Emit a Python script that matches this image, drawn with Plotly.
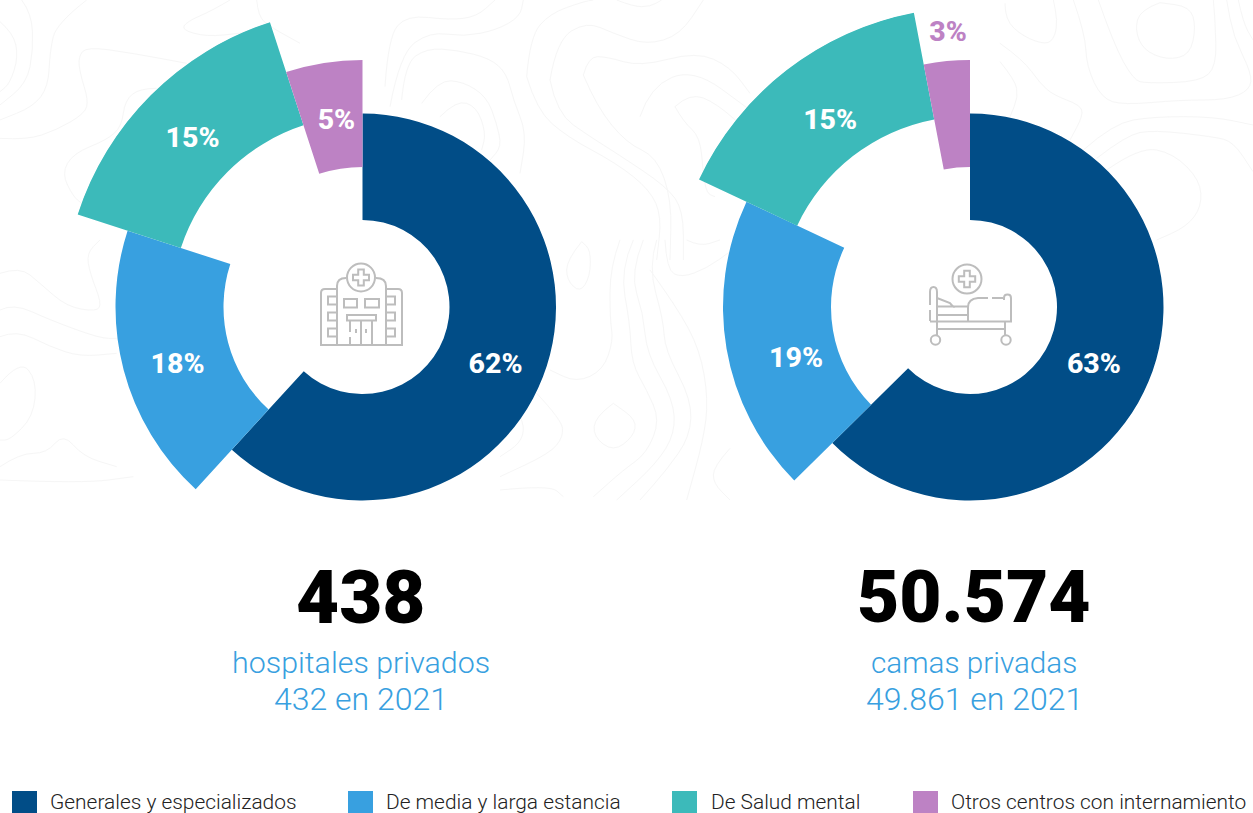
import plotly.graph_objects as go

# ---- data ----
categories = ["Generales y especializados", "De media y larga estancia", "De Salud mental", "Otros centros con internamiento"]
hosp_share = [61.8, 18.2, 15, 5]
beds_share = [62.6, 19.4, 15, 3]
ring_inner = [87, 139, 191, 140]
ring_outer = [193.5, 247, 299.5, 247]
colors = ["#014d87", "#38a0e0", "#3cbaba", "#bd82c4"]
hosp_label_r = [145.3, 194, 238.7, 187.3]
hosp_label_theta = [113.7, 252.45, 314.6, 352.0]
beds_label_r = [137.1, 181.7, 232.4, 274.4]
beds_label_theta = [115.3, 253.2, 323.0, 355.4]
beds_label_colors = ["white", "white", "white", "#bd82c4"]

W, H = 1300, 813
FONT = "Roboto"

def X(x): return x / W
def Y(y): return 1 - y / H

def donut_traces(share, sub, label_r, label_theta, label_colors):
    width = [s * 3.6 for s in share]
    theta, a = [], 0
    for w in width:
        theta.append(a + w / 2)
        a += w
    bars = go.Barpolar(
        r=[o - i for o, i in zip(ring_outer, ring_inner)], base=ring_inner, theta=theta, width=width,
        marker=dict(color=colors, line=dict(width=0)), subplot=sub, showlegend=False, hoverinfo="skip")
    labels = go.Scatterpolar(
        r=label_r, theta=label_theta, mode="text",
        text=[f"{s:.0f}%" for s in share], cliponaxis=False,
        textfont=dict(family=FONT, size=28.5, weight=800, color=label_colors),
        subplot=sub, showlegend=False, hoverinfo="skip")
    return [bars, labels]

fig = go.Figure()
for t in donut_traces(hosp_share, "polar", hosp_label_r, hosp_label_theta, ["white"] * 4):
    fig.add_trace(t)
for t in donut_traces(beds_share, "polar2", beds_label_r, beds_label_theta, beds_label_colors):
    fig.add_trace(t)

def polar_layout(cx, cy=307, R=300):
    return dict(
        domain=dict(x=[X(cx - R), X(cx + R)], y=[Y(cy + R), Y(cy - R)]),
        bgcolor="rgba(0,0,0,0)",
        radialaxis=dict(visible=False, range=[0, R]),
        angularaxis=dict(visible=False, rotation=90, direction="clockwise"),
    )

shapes, annos = [], []

def text(x, y, s, size, color, weight=300, anchor="center"):
    annos.append(dict(x=X(x), y=Y(y), xref="paper", yref="paper", text=s, showarrow=False,
                      xanchor=anchor, yanchor="middle",
                      font=dict(family=FONT, size=size, color=color, weight=weight)))

text(361.5, 597, "438", 74.5, "#000000", 900)
text(974, 597, "50.574", 73, "#000000", 900)
text(361, 662.5, "hospitales privados", 30.4, "#38a0e0")
text(361, 699, "432 en 2021", 32, "#38a0e0")
text(974, 662.5, "camas privadas", 29.7, "#38a0e0")
text(974, 699, "49.861 en 2021", 32, "#38a0e0")

legend_sq = [12, 348, 672, 913]
legend_tx = [48, 384, 709, 949]
for c, n, sx, tx in zip(colors, categories, legend_sq, legend_tx):
    shapes.append(dict(type="rect", xref="paper", yref="paper", x0=X(sx), x1=X(sx + 25), y0=Y(813), y1=Y(791),
                       fillcolor=c, line=dict(width=0)))
    text(tx, 802, n, 20.9, "#222222", 300, "left")

# ---- decoration: icons ----
ICON = "#bdbdbd"
def path(cmds, width=2, color=ICON):
    s = ""
    for c in cmds:
        if isinstance(c, str):
            s += c + " "
        else:
            s += f"{X(c[0]):.5f},{Y(c[1]):.5f} "
    shapes.append(dict(type="path", xref="paper", yref="paper", path=s.strip(), line=dict(color=color, width=width), layer="above"))
def rect(x0, y0, x1, y1, width=2):
    path(["M", (x0, y0), "L", (x1, y0), "L", (x1, y1), "L", (x0, y1), "Z"], width)
def line(x0, y0, x1, y1, width=2):
    path(["M", (x0, y0), "L", (x1, y1)], width)
def circle(cx, cy, r, width=2):
    shapes.append(dict(type="circle", xref="paper", yref="paper", x0=X(cx - r), x1=X(cx + r), y0=Y(cy + r), y1=Y(cy - r),
                       line=dict(color=ICON, width=width)))
def plus(cx, cy, a, b):
    pts = [(-a,-b),(a,-b),(a,-a),(b,-a),(b,a),(a,a),(a,b),(-a,b),(-a,a),(-b,a),(-b,-a),(-a,-a)]
    cmds = []
    for i, (dx, dy) in enumerate(pts):
        cmds += ["M" if i == 0 else "L", (cx + dx, cy + dy)]
    path(cmds + ["Z"])

# hospital
circle(361, 277.5, 14)
plus(361, 277.5, 2.8, 8)
path(["M", (337, 345), "L", (337, 286), "Q", (337, 278), (346, 278), "M", (376, 278), "Q", (386, 278), (386, 286), "L", (386, 345)])
path(["M", (337, 289), "L", (325, 289), "Q", (321, 289), (321, 293), "L", (321, 345), "L", (402, 345), "L", (402, 293), "Q", (402, 289), (398, 289), "L", (386, 289)])
rect(344, 299, 357, 307.5)
rect(365, 299, 379, 307.5)
rect(347, 315, 376, 320.5)
for yy in (296.5, 312.5, 328.5):
    path(["M", (336, yy), "L", (328, yy), "L", (328, yy + 8), "L", (336, yy + 8)])
    path(["M", (387, yy), "L", (395, yy), "L", (395, yy + 8), "L", (387, yy + 8)])
line(350, 320, 350, 332); line(350, 337, 350, 345)
line(372, 320, 372, 345); line(361, 320, 361, 345)
line(356, 329, 356, 333); line(366, 329, 366, 333)

# bed
circle(967, 279, 14.5)
plus(967, 279, 2.8, 8.2)
path(["M", (930, 305), "L", (930, 292), "Q", (930, 287), (933.5, 287), "Q", (937, 287), (937, 292), "L", (937, 321)])
line(930, 310, 930, 321)
path(["M", (937, 298), "L", (950, 303), "L", (953, 306.5), "L", (937, 306.5)])
line(937, 315, 968, 315)
path(["M", (953, 306.5), "L", (968, 306.5)])
path(["M", (968, 322), "L", (968, 307), "Q", (968, 299), (978, 298), "L", (988, 298), "M", (992, 298), "L", (1003, 298)])
path(["M", (1004, 300), "L", (1004, 298), "Q", (1004, 294.5), (1007.5, 294.5), "Q", (1011, 294.5), (1011, 298), "L", (1011, 321.5), "L", (930, 321.5)])
line(937, 329, 1004, 329)
line(937, 321, 937, 335); line(1005, 321, 1005, 335)
circle(935.5, 340, 4.7); circle(1006, 340, 4.7)

# ---- decoration: faint contour background ----
def smooth(pts):
    cmds = ["M", pts[0]]
    for i in range(1, len(pts) - 1):
        mid = ((pts[i][0] + pts[i + 1][0]) / 2, (pts[i][1] + pts[i + 1][1]) / 2)
        cmds += ["Q", pts[i], mid]
    cmds += ["L", pts[-1]]
    s = ""
    for c in cmds:
        s += c + " " if isinstance(c, str) else f"{X(c[0]):.5f},{Y(c[1]):.5f} "
    shapes.append(dict(type="path", xref="paper", yref="paper", path=s.strip(), layer="below",
                       line=dict(color="#f6f6f6", width=1)))

def contours(x0, y0, lines):
    for c in lines:
        smooth([(x0 + x / 3, y0 + y / 3) for x, y in c])

contours(350, 0, [
    [(105,260),(115,110),(170,45),(300,60),(380,50),(435,0)],
    [(120,320),(150,160),(240,95),(340,110),(440,90),(510,50),(520,0)],
    [(155,300),(165,190),(230,145),(320,150),(420,175),(470,220),(490,300),(530,400),(510,520)],
    [(215,310),(265,240),(340,245),(410,290),(440,370),(455,440),(420,480)],
    [(270,350),(320,300),(380,320),(408,400),(395,450)],
    [(530,230),(540,110),(600,40),(700,5),(730,0)],
    [(600,240),(620,120),(710,65),(790,100),(890,135),(990,105),(1060,0)],
    [(700,225),(715,170),(770,170),(870,200),(1040,155),(1140,200),(1200,280)],
    [(530,230),(560,330),(650,410),(800,490),(900,570),(935,650),(920,780)],
    [(600,240),(620,340),(720,410),(800,460),(950,560),(1000,630),(1000,780)],
    [(700,225),(740,320),(830,430),(920,470),(965,600),(960,780)],
    [(870,350),(900,260),(1030,205),(1200,330)],
    [(975,320),(1020,278),(1100,310),(1200,400)],
    [(975,320),(1000,365),(1050,410),(1060,520),(1070,580),(1095,590)],
    [(800,0),(850,20),(900,20),(935,0)],
])
contours(0, 240, [
    [(0,100),(60,80),(120,130),(200,200),(290,215),(305,190),(270,100),(260,40),(300,0)],
    [(0,210),(40,190),(150,240),(300,295),(350,295)],
    [(0,290),(50,270),(150,320),(240,350),(350,340)],
    [(0,430),(60,360),(110,420),(100,530),(30,600),(0,600)],
    [(0,680),(60,640),(140,640),(190,580),(250,650),(350,680)],
    [(0,720),(250,730),(400,710)],
])
contours(0, 0, [
    [(0,65),(40,100),(55,170),(30,250),(0,275)],
    [(65,0),(95,40),(100,150),(80,250),(0,315)],
    [(260,0),(170,70),(150,150),(145,260),(100,320),(0,360)],
    [(0,415),(80,420),(170,390),(255,340),(265,300),(240,220),(235,170),(260,140),(400,160),(560,190)],
    [(470,265),(420,265),(375,300),(365,380),(320,420),(220,460),(185,520),(220,590),(245,610)],
    [(690,0),(640,30),(560,65),(545,90),(620,110),(720,100),(790,90)],
    [(770,0),(775,50),(810,80),(900,130)],
])
contours(1000, 0, [
    [(15,10),(15,60),(70,110),(140,135),(165,110),(172,60),(160,0)],
    [(0,130),(70,180),(120,250),(160,285),(240,315),(250,345),(210,420)],
    [(0,185),(45,240),(55,290),(30,350)],
    [(220,0),(255,100),(260,200),(305,295),(370,315),(540,300),(680,300),(750,270),(755,220),(700,110),(680,0)],
    [(295,0),(340,130),(400,240),(440,250),(600,245),(650,200),(645,60),(640,0)],
    [(480,8),(420,30),(405,90),(430,150),(500,180),(570,165),(588,80),(570,20),(480,8)],
    [(250,450),(340,370),(460,350),(640,350),(759,375)],
    [(290,475),(380,405),(460,390),(640,410),(700,425),(759,515)],
    [(320,510),(420,440),(520,460),(600,540),(605,620),(560,680),(470,720)],
    [(715,0),(730,70),(759,120)],
])
contours(500, 240, [
    [(245,5),(200,60),(200,120),(240,158),(270,110),(272,30),(245,5)],
    [(360,0),(330,80),(330,240),(340,300),(310,390),(230,428),(150,390)],
    [(400,0),(360,90),(390,250),(395,370),(440,450),(480,540),(440,640),(370,690),(280,770)],
    [(430,0),(390,100),(430,220),(440,340),(520,480),(525,580),(470,670),(350,780)],
    [(470,0),(445,80),(490,240),(495,330),(575,480),(570,590),(500,690),(420,780)],
    [(495,0),(500,90),(545,113),(620,85),(690,35)],
    [(450,90),(530,200),(600,330),(625,480),(610,600),(560,780)],
    [(340,490),(285,530),(280,590),(340,635),(400,590),(410,540),(340,490)],
    [(690,625),(640,680),(640,730),(690,780)],
    [(110,460),(185,540),(190,590),(150,640),(0,710)],
    [(0,750),(150,735),(190,770)],
    [(60,530),(75,560),(60,610),(0,650)],
    [(560,0),(600,20),(660,0)],
])

fig.update_layout(
    width=W, height=H, margin=dict(l=0, r=0, t=0, b=0, pad=0),
    paper_bgcolor="white", plot_bgcolor="white", showlegend=False,
    polar=polar_layout(362.5), polar2=polar_layout(970),
    shapes=shapes, annotations=annos,
)
fig.write_html("out.html", config=dict(displayModeBar=False),
               post_script="document.body.style.margin='0';document.documentElement.style.overflow='hidden';document.body.style.overflow='hidden';")
